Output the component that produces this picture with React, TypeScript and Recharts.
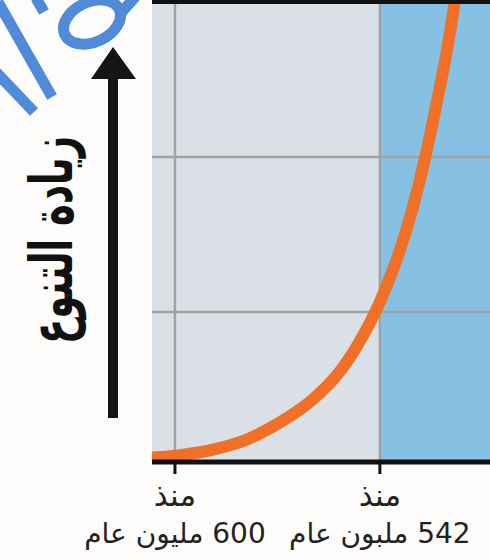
import React from 'react';
import { LineChart, Line, XAxis, YAxis, ReferenceArea, ReferenceLine } from 'recharts';

// time axis (million years ago), left tick is the older one
const ageTicks = [600, 542];
const tickFirstLine = ['منذ', 'منذ'];
const tickSecondLine = ['600 مليون عام', '542 ملبون عام'];

// diversity curve
const curveAge = [607.6, 598.6, 589.2, 579.6, 570.3, 561.0, 553.3, 548.5, 545.4, 542.8, 540.0, 536.3, 532.7, 529.3, 526.0, 523.0, 521.3, 519.9];
const curveDiversity = [0.9, 1.5, 2.7, 4.9, 8.6, 13.6, 19.7, 25.2, 29.4, 33.4, 38.5, 46.1, 55.3, 65.8, 77.8, 89.6, 97.5, 105];

const gridLevels = [32.6, 66.3];
const yAxisTitle = 'زيادة التنوع';

const data = curveAge.map((age, i) => ({ age, diversity: curveDiversity[i] }));

const AgeTick = (props: any) => {
  const { x, y, payload } = props;
  const i = ageTicks.indexOf(payload.value);
  return (
    <g>
      <text x={x} y={y} dy={30} textAnchor="middle" direction="rtl"
        fontFamily="'DejaVu Sans', sans-serif" fontSize={31} fill="#222">
        {tickFirstLine[i]}
      </text>
      <text x={x} y={y} dy={67} textAnchor="middle" direction="rtl"
        fontFamily="'Liberation Sans Narrow', 'DejaVu Sans', sans-serif" fontSize={28} fill="#222">
        {tickSecondLine[i]}
      </text>
    </g>
  );
};

export default function App() {
  return (
    <div style={{ position: 'absolute', left: 0, top: 0, width: 490, height: 559, overflow: 'hidden', background: '#fdfcfa' }}>
      <LineChart width={520} height={559} data={data} margin={{ top: 2, right: 20, bottom: 0, left: 152 }}>
        <XAxis
          dataKey="age"
          type="number"
          domain={[508, 606.5]}
          reversed
          allowDataOverflow
          ticks={ageTicks}
          interval={0}
          height={97}
          tickSize={12}
          tick={<AgeTick />}
          tickLine={{ stroke: '#111', strokeWidth: 3 }}
          axisLine={{ stroke: '#111', strokeWidth: 5 }}
        />
        <YAxis
          type="number"
          domain={[0, 100]}
          allowDataOverflow
          width={0}
          tick={false}
          tickLine={false}
          axisLine={{ stroke: '#111', strokeWidth: 5 }}
        />
        {/* background bands */}
        <ReferenceArea x1={606.5} x2={542} fill="#dbe0e6" fillOpacity={1} stroke="none" zIndex={-200} />
        <ReferenceArea x1={542} x2={508} fill="#86c1e3" fillOpacity={1} stroke="none" zIndex={-200} />
        {/* grid */}
        {ageTicks.map((t) => (
          <ReferenceLine key={'gx' + t} x={t} stroke="#9ea3a8" strokeWidth={2.5} zIndex={-150} />
        ))}
        {gridLevels.map((v) => (
          <ReferenceLine key={'gy' + v} y={v} stroke="#9ea3a8" strokeWidth={2.5} zIndex={-150} />
        ))}
        <Line
          type="monotone"
          dataKey="diversity"
          stroke="#f07027"
          strokeWidth={12}
          dot={false}
          activeDot={false}
          isAnimationActive={false}
        />
        <ReferenceLine y={100} stroke="#111" strokeWidth={4} zIndex={600} />
      </LineChart>

      {/* y-axis arrow, title and the watermark */}
      <svg width={490} height={559} style={{ position: 'absolute', left: 0, top: 0, pointerEvents: 'none' }}>
        <g stroke="#4f8bd6" strokeWidth={11} fill="none">
          <line x1={-2} y1={2} x2={52} y2={97} />
          <line x1={-6} y1={70} x2={34} y2={112} />
          <line x1={36} y1={-2} x2={44} y2={12} />
          <ellipse cx={92} cy={22} rx={30} ry={20} transform="rotate(-25 92 22)" />
          <line x1={120} y1={14} x2={136} y2={-4} />
        </g>
        <line x1={113} y1={418} x2={113} y2={76} stroke="#151515" strokeWidth={10} />
        <polygon points="91,79 136,79 113,47" fill="#151515" />
        <text
          x={0}
          y={0}
          transform="translate(52 240) rotate(-90) scale(1 1.6)"
          textAnchor="middle"
          dominantBaseline="central"
          direction="rtl"
          fontFamily="'DejaVu Sans', sans-serif"
          fontWeight="bold"
          fontSize={37}
          fill="#111"
        >
          {yAxisTitle}
        </text>
      </svg>
    </div>
  );
}
